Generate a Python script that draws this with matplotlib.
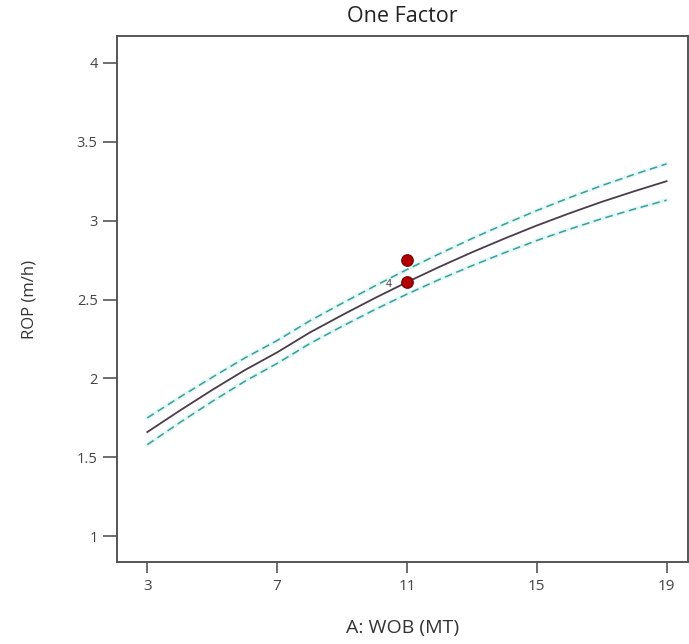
import matplotlib
matplotlib.use("Agg")
import matplotlib.pyplot as plt

plt.rcParams['font.family'] = ['Open Sans', 'DejaVu Sans']

# WOB values and predicted ROP with confidence band
wob = [3, 4, 5, 6, 7, 8, 9, 10, 11, 12, 13, 14, 15, 16, 17, 18, 19]
rop_pred = [1.660, 1.796, 1.927, 2.052, 2.165, 2.290, 2.401, 2.508, 2.610,
            2.707, 2.799, 2.886, 2.969, 3.046, 3.119, 3.186, 3.250]
rop_upper = [1.750, 1.881, 2.007, 2.129, 2.240, 2.364, 2.476, 2.585, 2.690,
             2.790, 2.886, 2.977, 3.064, 3.145, 3.222, 3.293, 3.360]
rop_lower = [1.580, 1.720, 1.854, 1.981, 2.095, 2.220, 2.330, 2.435, 2.534,
             2.627, 2.714, 2.796, 2.874, 2.945, 3.012, 3.073, 3.130]

# design points
pts_x = [11, 11]
pts_y = [2.75, 2.61]
pt_label = "4"

fig = plt.figure(figsize=(6.89, 6.44), dpi=100)
ax = fig.add_axes([0.170, 0.127, 0.828, 0.817])

# faint glow under dashed lines
for band in (rop_upper, rop_lower):
    ax.plot(wob, band, color="#e4f7f7", lw=3, zorder=1)
    ax.plot(wob, band, color="#3a9e9a", lw=1.1, ls=(0, (5, 3)), zorder=2)
ax.plot(wob, rop_pred, color="#4a3c48", lw=1.3, zorder=3)

ax.scatter(pts_x, pts_y, s=70, color="#b00000", edgecolor="#700000", lw=0.8, zorder=4)
ax.annotate(pt_label, (pts_x[1], pts_y[1]), xytext=(-13, -2), textcoords="offset points",
            fontsize=7.5, color="#333333", va="center", ha="center")

ax.set_xlim(2.07, 19.65)
ax.set_ylim(0.835, 4.17)
ax.set_xticks([3, 7, 11, 15, 19])
ax.set_yticks([1, 1.5, 2, 2.5, 3, 3.5, 4])
ax.set_yticklabels(["1", "1.5", "2", "2.5", "3", "3.5", "4"])

for s in ax.spines.values():
    s.set_color("#555555")
    s.set_linewidth(1.4)
ax.tick_params(axis="y", length=10, width=1.2, color="#555555", pad=4, labelsize=10.5, labelcolor="#444444")
ax.tick_params(axis="x", length=8, width=1.2, color="#555555", pad=4, labelsize=11, labelcolor="#444444")

ax.set_title("One Factor", fontsize=15.5, color="#222222", pad=10)
ax.set_xlabel("A: WOB (MT)", fontsize=14, color="#333333", labelpad=18)
ax.set_ylabel("ROP (m/h)", fontsize=12, color="#333333", labelpad=28)

fig.savefig("out.png", dpi=100)
